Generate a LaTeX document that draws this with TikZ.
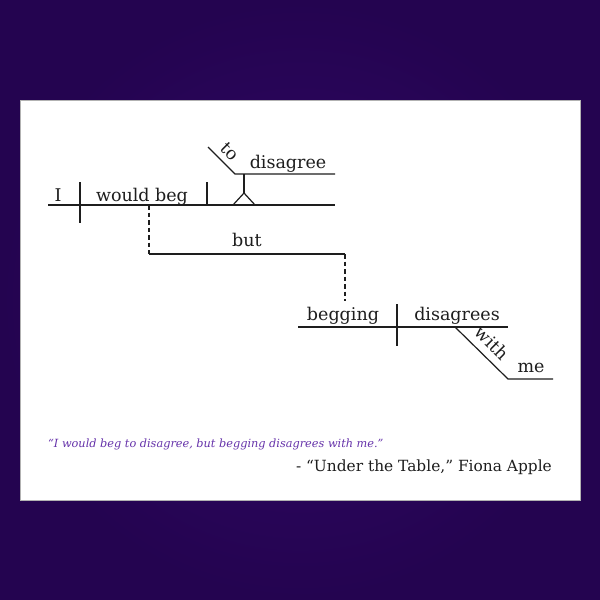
\documentclass[tikz,border=0pt]{standalone}
\usepackage{fontspec}
\setmainfont{DejaVu Serif}
\usepackage{tikz}
\definecolor{bgOuter}{RGB}{36,4,80}
\definecolor{bgInner}{RGB}{48,7,102}
\definecolor{lineGray}{RGB}{30,30,30}
\definecolor{quotePurple}{RGB}{102,51,170}
\begin{document}
\begin{tikzpicture}[x=1pt,y=-1pt]
 \tikzset{
  diagLine/.style={lineGray, line width=1.2pt},
  dashLink/.style={lineGray, line width=1.1pt, dash pattern=on 4.5pt off 3pt},
  wordLabel/.style={inner sep=0pt, anchor=base, font=\fontsize{17.5}{20}\selectfont, text=lineGray},
  slantLabel/.style={inner sep=0pt, font=\fontsize{17.5}{20}\selectfont, text=lineGray, rotate=-45}
  }
  % background and card
  \useasboundingbox (0,0) rectangle (600,600);
  \shade[inner color=bgInner, outer color=bgOuter] (0,0) rectangle (600,600);
  \draw[gray!60, fill=white] (20,100) rectangle (580,500);

  % points of the main clause
  \coordinate (mainL) at (48,205);
  \coordinate (mainR) at (335,205);
  \coordinate (subjT) at (80,182);
  \coordinate (subjB) at (80,223);
  \coordinate (verbT) at (207,182);
  \coordinate (verbB) at (207,205);
  \coordinate (pedL) at (233,205);
  \coordinate (pedR) at (255,205);
  \coordinate (pedA) at (244,193);
  \coordinate (pedTop) at (244,174);
  \coordinate (infL) at (235,174);
  \coordinate (infR) at (335,174);
  \coordinate (toS) at (208,147);

  % the main line
  \draw[diagLine] (mainL) -- (mainR);
  \draw[diagLine] (subjT) -- (subjB);
  \draw[diagLine] (verbT) -- (verbB);
  % pedestal for the infinitive
  \draw[diagLine] (pedL) -- (pedA) -- (pedR);
  \draw[diagLine] (pedA) -- (pedTop);
  \draw[diagLine] (toS) -- (infL) -- (infR);

  \node[wordLabel] (wI) at (58,201) {I};
  \node[wordLabel] (wWould) at (142,201) {would beg};
  \node[wordLabel] (wDisagree) at (288,168) {disagree};
  \node[slantLabel] (wTo) at (230,152) {to};

  % conjunction
  \coordinate (butA) at (149,205);
  \coordinate (butL) at (149,254);
  \coordinate (butR) at (345,254);
  \coordinate (begTop) at (345,301);
  \draw[dashLink] (butA) -- (butL);
  \draw[diagLine] (butL) -- (butR);
  \draw[dashLink] (butR) -- (begTop);
  \node[wordLabel] (wBut) at (247,246) {but};

  % second clause
  \coordinate (clL) at (298,327);
  \coordinate (clR) at (508,327);
  \coordinate (cdT) at (397,304);
  \coordinate (cdB) at (397,346);
  \coordinate (withS) at (455,327);
  \coordinate (withE) at (508,379);
  \coordinate (meR) at (553,379);
  \draw[diagLine] (clL) -- (clR);
  \draw[diagLine] (cdT) -- (cdB);
  \draw[diagLine] (withS) -- (withE) -- (meR);

  \node[wordLabel] (wBegging) at (343,320) {begging};
  \node[wordLabel] (wDisagrees) at (457,320) {disagrees};
  \node[slantLabel] (wWith) at (492,343) {with};
  \node[wordLabel] (wMe) at (531,372) {me};

  % quote and source
  \node[inner sep=0pt, anchor=base west, font=\fontsize{11.3}{13}\selectfont\itshape, text=quotePurple] (quote) at (48,447) {“I would beg to disagree, but begging disagrees with me.”};
  \node[inner sep=0pt, anchor=base east, font=\fontsize{15.4}{18}\selectfont, text=lineGray] (source) at (552,471) {- “Under the Table,” Fiona Apple};
\end{tikzpicture}
\end{document}
